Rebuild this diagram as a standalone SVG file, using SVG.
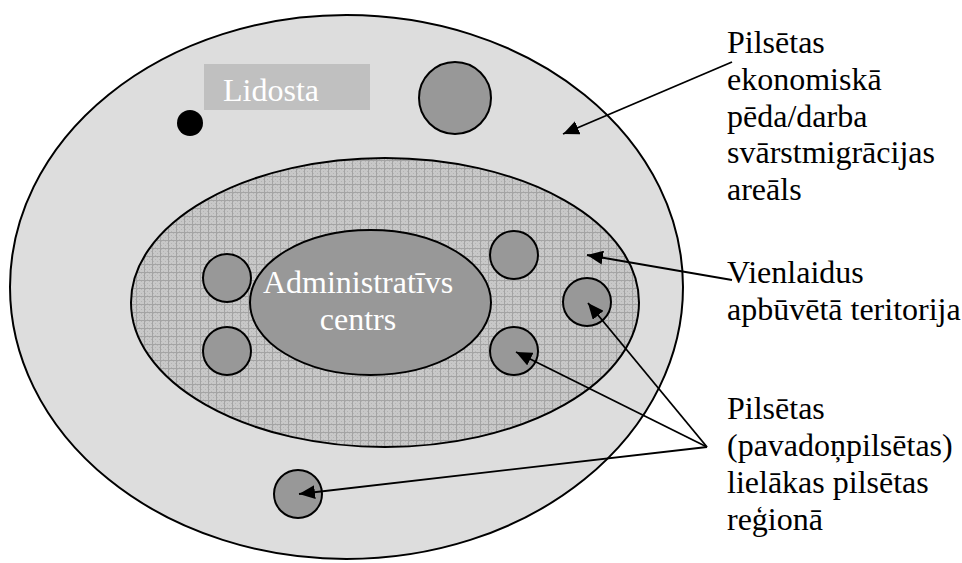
<svg xmlns="http://www.w3.org/2000/svg" width="962" height="563" viewBox="0 0 962 563">
<style>
text{font-family:"Liberation Serif","Times New Roman",serif;font-size:32px}
.lbl{fill:#000}
.wt{fill:#fff}
.town{fill:#989898;stroke:#000;stroke-width:2}
.conn{stroke:#000;stroke-width:1.8;fill:none;marker-end:url(#ah)}
</style>
<defs>
<pattern id="hatch" width="8" height="8" patternUnits="userSpaceOnUse">
<rect width="8" height="8" fill="#c8c8c8"/>
<rect x="1" y="1" width="1" height="1" fill="#b4b4b4"/>
<rect x="3" y="3" width="1" height="1" fill="#b4b4b4"/>
<rect x="5" y="1" width="1" height="1" fill="#b4b4b4"/>
<rect x="1" y="5" width="1" height="1" fill="#b4b4b4"/>
<rect x="5" y="5" width="1" height="1" fill="#b4b4b4"/>
<rect x="3" y="7" width="1" height="1" fill="#b4b4b4"/>
<rect x="7" y="3" width="1" height="1" fill="#b4b4b4"/>
<path d="M0,0.5H8M0.5,0V8" stroke="#a4a4a4" stroke-width="1"/>
</pattern>
<marker id="ah" markerUnits="userSpaceOnUse" markerWidth="18" markerHeight="14" refX="16" refY="7" orient="auto">
<path d="M0,0 L16,7 L0,14 Z" fill="#000"/>
</marker>
<clipPath id="lidclip"><rect x="204" y="64" width="166" height="38"/></clipPath>
</defs>
<g id="outer-area">
<ellipse cx="346.5" cy="287" rx="336.5" ry="272" fill="#dddddd" stroke="#000" stroke-width="2"/>
</g>
<g id="built-up-area">
<ellipse cx="385" cy="302.5" rx="254" ry="144.5" fill="url(#hatch)" stroke="#000" stroke-width="2"/>
</g>
<g id="admin-centre">
<ellipse cx="370.5" cy="302.5" rx="120.5" ry="72.5" fill="#989898" stroke="#000" stroke-width="2"/>
<text class="wt" x="358" y="293" text-anchor="middle">Administratīvs</text>
<text class="wt" x="358" y="330" text-anchor="middle">centrs</text>
</g>
<g id="airport">
<rect x="204" y="64" width="166" height="46" fill="#c0c0c0"/>
<text class="wt" x="223" y="101" clip-path="url(#lidclip)">Lidosta</text>
</g>
<g id="airport-dot"><circle cx="190" cy="123" r="13" fill="#000"/></g>
<g id="town-top"><circle class="town" cx="455" cy="98" r="36"/></g>
<g id="town-left-top"><circle class="town" cx="227" cy="278" r="24"/></g>
<g id="town-left-bottom"><circle class="town" cx="227" cy="351" r="24"/></g>
<g id="town-right-top"><circle class="town" cx="514" cy="255" r="24"/></g>
<g id="town-right-bottom"><circle class="town" cx="514" cy="351" r="24"/></g>
<g id="town-far-right"><circle class="town" cx="587" cy="302" r="24"/></g>
<g id="town-bottom"><circle class="town" cx="298" cy="494" r="24"/></g>
<g id="connectors">
<line class="conn" x1="732" y1="62" x2="563" y2="134"/>
<line class="conn" x1="732" y1="280" x2="587" y2="255"/>
<line class="conn" x1="707" y1="447" x2="516" y2="352"/>
<line class="conn" x1="707" y1="447" x2="588" y2="303"/>
<line class="conn" x1="707" y1="447" x2="299" y2="494"/>
</g>
<g id="label-footprint">
<text class="lbl" x="727" y="53">Pilsētas</text>
<text class="lbl" x="727" y="90">ekonomiskā</text>
<text class="lbl" x="727" y="127">pēda/darba</text>
<text class="lbl" x="727" y="163">svārstmigrācijas</text>
<text class="lbl" x="727" y="200">areāls</text>
</g>
<g id="label-builtup">
<text class="lbl" x="727" y="283">Vienlaidus</text>
<text class="lbl" x="727" y="320">apbūvētā teritorija</text>
</g>
<g id="label-towns">
<text class="lbl" x="727" y="419">Pilsētas</text>
<text class="lbl" x="727" y="456">(pavadoņpilsētas)</text>
<text class="lbl" x="727" y="493">lielākas pilsētas</text>
<text class="lbl" x="727" y="530">reģionā</text>
</g>
</svg>
